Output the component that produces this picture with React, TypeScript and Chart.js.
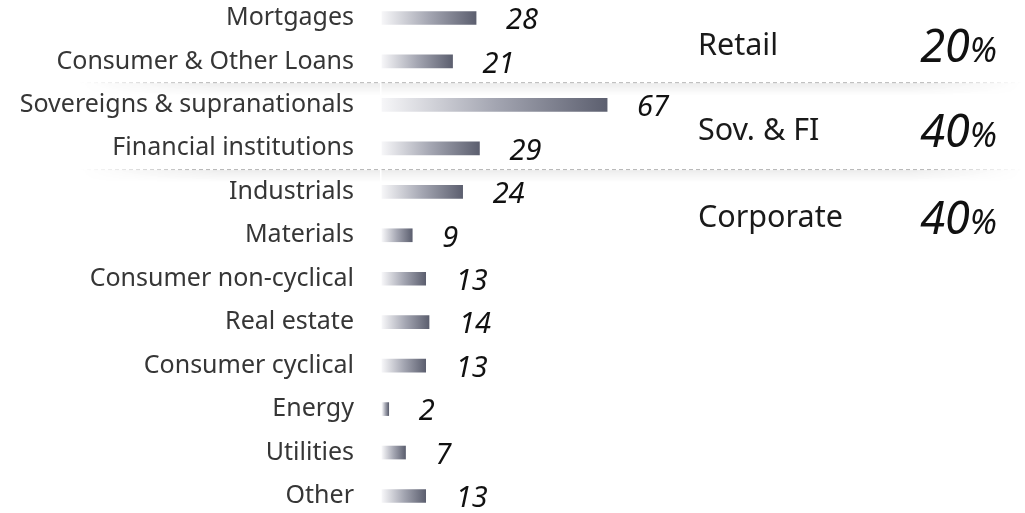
import React, { useEffect, useRef } from "react";
import { Chart, registerables } from "chart.js";

Chart.register(...registerables);

const categories = [
  "Mortgages",
  "Consumer & Other Loans",
  "Sovereigns & supranationals",
  "Financial institutions",
  "Industrials",
  "Materials",
  "Consumer non-cyclical",
  "Real estate",
  "Consumer cyclical",
  "Energy",
  "Utilities",
  "Other",
];
const exposures = [28, 21, 67, 29, 24, 9, 13, 14, 13, 2, 7, 13];
const segmentNames = ["Retail", "Sov. & FI", "Corporate"];
const segmentShares = [20, 40, 40];
const segmentSizes = [2, 2, 8];

const FONT = "'Noto Sans', 'DejaVu Sans', sans-serif";

function separatorYs(chart: any): number[] {
  const y = chart.scales.y;
  const out: number[] = [];
  let acc = 0;
  for (let i = 0; i < segmentSizes.length - 1; i++) {
    acc += segmentSizes[i];
    out.push((y.getPixelForValue(acc - 1) + y.getPixelForValue(acc)) / 2 - 1);
  }
  return out;
}

const decorPlugin = {
  id: "decor",
  beforeDatasetsDraw(chart: any) {
    const ctx = chart.ctx;
    const seps = separatorYs(chart);
    const x0 = 80;
    const x1 = 1022;
    const left = chart.chartArea.left;
    seps.forEach((sy) => {
      ctx.save();
      for (let k = 0; k < 12; k++) {
        const a = 0.07 * (1 - k / 12);
        const g = ctx.createLinearGradient(x0, 0, x1, 0);
        g.addColorStop(0, "rgba(0,0,0,0)");
        g.addColorStop(0.15, `rgba(0,0,0,${a})`);
        g.addColorStop(0.88, `rgba(0,0,0,${a})`);
        g.addColorStop(1, "rgba(0,0,0,0)");
        ctx.fillStyle = g;
        ctx.fillRect(x0, sy + 1 + k, x1 - x0, 1);
      }
      const lg = ctx.createLinearGradient(x0, 0, x1, 0);
      lg.addColorStop(0, "rgba(180,180,180,0)");
      lg.addColorStop(0.12, "rgba(180,180,180,1)");
      lg.addColorStop(0.9, "rgba(180,180,180,1)");
      lg.addColorStop(1, "rgba(180,180,180,0)");
      ctx.strokeStyle = lg;
      ctx.lineWidth = 1;
      ctx.setLineDash([4, 3]);
      ctx.beginPath();
      ctx.moveTo(x0, sy + 0.5);
      ctx.lineTo(x1, sy + 0.5);
      ctx.stroke();
      ctx.setLineDash([]);
      ctx.fillStyle = "#ffffff";
      ctx.fillRect(left - 2, sy - 1, 1.5, 14);
      ctx.restore();
    });
  },
  afterDatasetsDraw(chart: any) {
    const ctx = chart.ctx;
    const meta = chart.getDatasetMeta(0);
    ctx.save();
    ctx.fillStyle = "#111111";
    ctx.font = `italic 29px ${FONT}`;
    ctx.textAlign = "left";
    ctx.textBaseline = "middle";
    meta.data.forEach((bar: any, i: number) => {
      ctx.fillText(String(exposures[i]), bar.x + 30, bar.y + 3);
    });

    const seps = separatorYs(chart);
    segmentNames.forEach((name, i) => {
      const cy = i === 0 ? seps[0] - 38 : seps[i - 1] + 47;
      ctx.fillStyle = "#1a1a1a";
      ctx.font = `30.5px ${FONT}`;
      ctx.textAlign = "left";
      ctx.textBaseline = "alphabetic";
      ctx.fillText(name, 698, cy + 11);
      const right = 997;
      ctx.fillStyle = "#111111";
      ctx.font = `italic 34px ${FONT}`;
      ctx.textAlign = "right";
      const pw = ctx.measureText("%").width;
      ctx.fillText("%", right, cy + 18);
      ctx.font = `italic 45px ${FONT}`;
      ctx.fillText(String(segmentShares[i]), right - pw, cy + 18);
    });
    ctx.restore();
  },
};

export default function App() {
  const ref = useRef<HTMLCanvasElement | null>(null);
  useEffect(() => {
    if (!ref.current) return;
    const chart = new Chart(ref.current, {
      type: "bar",
      data: {
        labels: categories,
        datasets: [
          {
            data: exposures,
            barThickness: 13,
            borderWidth: 0,
            clip: false,
            backgroundColor: (c: any) => {
              const ch = c.chart;
              if (!ch.chartArea || c.dataIndex === undefined) return "#7a7d8a";
              const xs = ch.scales.x;
              const a = xs.getPixelForValue(0);
              const b = xs.getPixelForValue(exposures[c.dataIndex]);
              const g = ch.ctx.createLinearGradient(a, 0, Math.max(b, a + 1), 0);
              g.addColorStop(0, "#f6f6f8");
              g.addColorStop(0.5, "#a4a6b2");
              g.addColorStop(1, "#5c5f6f");
              return g;
            },
          },
        ],
      },
      options: {
        indexAxis: "y",
        responsive: false,
        animation: false,
        layout: { padding: { top: 18, bottom: 17, left: 0, right: 307 } },
        plugins: {
          legend: { display: false },
          tooltip: { enabled: false },
        },
        scales: {
          x: {
            display: false,
            min: 0,
            max: 100,
          },
          y: {
            offset: false,
            afterFit: (s: any) => {
              s.width = 382;
              s.paddingTop = 0;
              s.paddingBottom = 0;
            },
            grid: { display: false, drawTicks: false },
            border: { display: false },
            ticks: {
              autoSkip: false,
              padding: 28,
              color: "#363636",
              font: { family: FONT, size: 25 },
            },
          },
        },
      },
      plugins: [decorPlugin],
    });
    return () => chart.destroy();
  }, []);
  return (
    <div style={{ position: "absolute", left: 0, top: 0, width: 1025, height: 513 }}>
      <canvas ref={ref} width={1025} height={513} style={{ display: "block" }} />
    </div>
  );
}
